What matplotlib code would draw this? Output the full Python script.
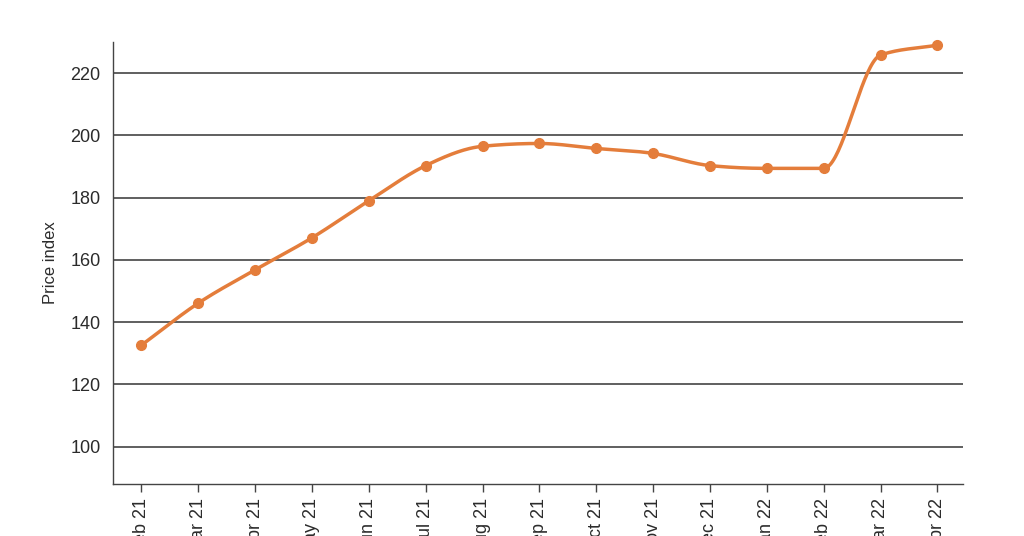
import numpy as np
import matplotlib
matplotlib.use("Agg")
from matplotlib import pyplot as plt

months = ["Feb 21", "Mar 21", "Apr 21", "May 21", "Jun 21", "Jul 21", "Aug 21",
          "Sep 21", "Oct 21", "Nov 21", "Dec 21", "Jan 22", "Feb 22", "Mar 22", "Apr 22"]
price_index = [132.6, 146.1, 156.8, 167.1, 179.0, 190.3, 196.5,
               197.4, 195.8, 194.2, 190.3, 189.4, 189.4, 225.8, 229.0]
y_ticks = [100, 120, 140, 160, 180, 200, 220]

ORANGE = "#E47D3B"
TEXT = "#2b2b2b"


# monotone cubic (d3 curveMonotoneX style) for the smooth line
def monotone_curve(x, y, n=40):
    x = np.asarray(x, float)
    y = np.asarray(y, float)
    h = np.diff(x)
    s = np.diff(y) / h
    m = np.zeros_like(y)
    for i in range(1, len(y) - 1):
        if s[i - 1] * s[i] <= 0:
            m[i] = 0.0
        else:
            p = (s[i - 1] * h[i] + s[i] * h[i - 1]) / (h[i - 1] + h[i])
            m[i] = np.sign(s[i - 1]) * min(abs(s[i - 1]), abs(s[i]), 0.5 * abs(p)) * 2
    m[0] = s[0]
    m[-1] = s[-1]
    xs, ys = [], []
    for i in range(len(x) - 1):
        t = np.linspace(0, 1, n)
        h00 = 2 * t**3 - 3 * t**2 + 1
        h10 = t**3 - 2 * t**2 + t
        h01 = -2 * t**3 + 3 * t**2
        h11 = t**3 - t**2
        xs.append(x[i] + t * h[i])
        ys.append(h00 * y[i] + h10 * h[i] * m[i] + h01 * y[i + 1] + h11 * h[i] * m[i + 1])
    return np.concatenate(xs), np.concatenate(ys)


plt.rcParams["font.family"] = ["Liberation Sans", "DejaVu Sans"]

fig = plt.figure(figsize=(10.24, 5.36), dpi=100)
ax = fig.add_axes([113 / 1024, 1 - 484 / 536, 850 / 1024, 442 / 536])

x = np.arange(len(months))
cx, cy = monotone_curve(x, price_index)
ax.plot(cx, cy, color=ORANGE, lw=2.5, zorder=3, solid_capstyle="round", clip_on=False)
ax.plot(x, price_index, "o", color=ORANGE, ms=7, zorder=4, clip_on=False)

ax.set_xlim(-0.5, 14.45)
ax.set_ylim(88, 230)
ax.set_yticks(y_ticks)
ax.set_xticks(x)
ax.set_xticklabels(months, rotation=90, color=TEXT, fontsize=13)
ax.tick_params(axis="y", length=0, pad=9, labelsize=13, labelcolor=TEXT)
ax.tick_params(axis="x", length=6, width=1, color="#444444", pad=4)
ax.yaxis.grid(True, color="#444444", lw=1.2)
ax.set_axisbelow(True)

for side in ["top", "right"]:
    ax.spines[side].set_visible(False)
for side in ["left", "bottom"]:
    ax.spines[side].set_color("#444444")
    ax.spines[side].set_linewidth(1)

ax.set_ylabel("Price index", fontsize=12, color=TEXT, labelpad=9)

fig.savefig("out.png", dpi=100)
